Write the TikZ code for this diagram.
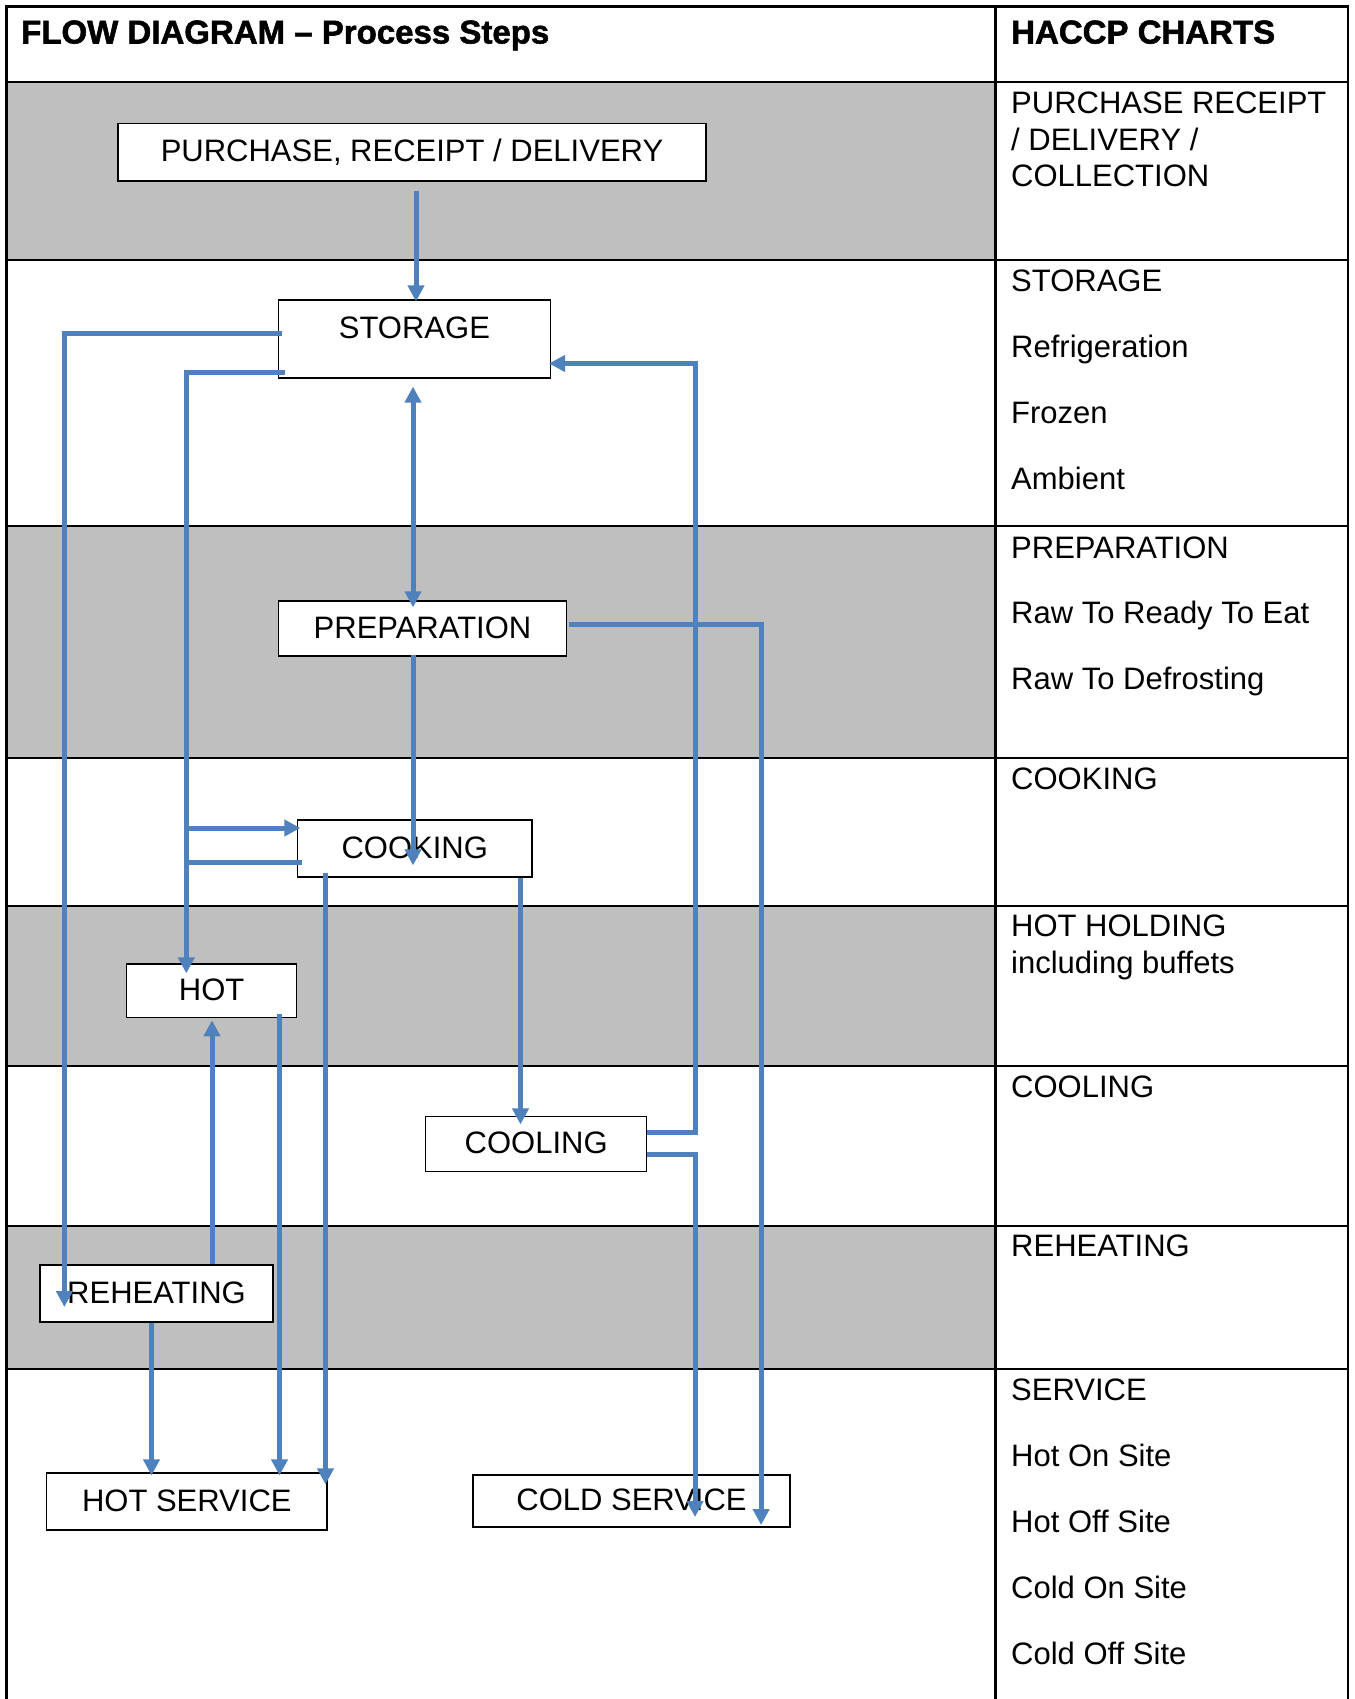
\documentclass[tikz,border=0pt]{standalone}
\usepackage{fontspec}
\setmainfont{Liberation Sans}
\newfontfamily\heavyfam[FakeBold=1.6]{Liberation Sans Bold}
\usepackage{xcolor}
\usepackage{tikz}
\usetikzlibrary{arrows.meta,positioning,calc}
\definecolor{cFlow}{HTML}{4F81BD}
\definecolor{cBand}{HTML}{BFBFBF}
\newcommand\boxfont{\fontsize{31}{36.5}\selectfont}
\newcommand\hdrfont{\fontsize{33}{38}\selectfont\heavyfam}
\newcommand\chtop{\rule{0pt}{23pt}}
\tikzset{
  stepbox/.style = {rectangle, draw=black, fill=white, line width=1.2pt, inner sep=0pt,
                    font=\boxfont, text height=23pt, text depth=4pt},
  fl/.style      = {-{Triangle[length=16pt,width=16pt]}, draw=cFlow, line width=5pt},
  flb/.style     = {{Triangle[length=16pt,width=16pt]}-{Triangle[length=16pt,width=16pt]},
                    draw=cFlow, line width=5pt},
  fln/.style     = {draw=cFlow, line width=5pt},
  band/.style    = {fill=cBand},
  rule/.style    = {draw=black, line width=2.4pt},
  hdr/.style     = {font=\hdrfont, anchor=base west, inner sep=0pt},
  chart/.style   = {font=\boxfont, anchor=north west, inner sep=0pt, align=left},
}

\begin{document}
\begin{tikzpicture}[x=1pt, y=-1pt]
  \useasboundingbox (0,0) rectangle (1354,1699);
  \foreach \ya/\yb in {82/260,526/758,906/1066,1226/1369}
    \fill[band] (6.5,\ya) rectangle (995.5,\yb);
  \draw[rule] (6.5,1699) -- (6.5,6.5) -- (1348,6.5) -- (1348,1699);
  \draw[rule] (995.5,6.5) -- (995.5,1699);
  \foreach \y in {82,260,526,758,906,1066,1226,1369}
    \draw[rule] (6.5,\y) -- (1348,\y);

  \node[hdr] (flowhd) at (21,43.5) {FLOW DIAGRAM – Process Steps};
  \node[hdr] (haccphd) at (1011,43.5) {HACCP CHARTS};

  \node[chart] (chpurch) at (1011,90.6) {\chtop PURCHASE RECEIPT\\/ DELIVERY /\\COLLECTION};
  \node[chart] (chstore) at (1011,268) {\chtop STORAGE\\[29.5pt]Refrigeration\\[29.5pt]Frozen\\[29.5pt]Ambient};
  \node[chart] (chprep) at (1011,535) {\chtop PREPARATION\\[29pt]Raw To Ready To Eat\\[29pt]Raw To Defrosting};
  \node[chart] (chcook) at (1011,766) {\chtop COOKING};
  \node[chart] (chhot) at (1011,913.4) {\chtop HOT HOLDING\\including buffets};
  \node[chart] (chcool) at (1011,1074) {\chtop COOLING};
  \node[chart] (chreheat) at (1011,1233.5) {\chtop REHEATING};
  \node[chart] (chserve) at (1011,1377) {\chtop SERVICE\\[29.5pt]Hot On Site\\[29.5pt]Hot Off Site\\[29.5pt]Cold On Site\\[29.5pt]Cold Off Site};

  \node[stepbox, minimum width=588pt, minimum height=57.5pt] (purch) at (412,152.3) {PURCHASE, RECEIPT / DELIVERY};
  \node[stepbox, minimum width=272pt, minimum height=78pt, text depth=25pt] (store) at (414.4,339) {STORAGE};
  \node[stepbox, minimum width=288pt, minimum height=55pt] (prep) at (422.5,628.5) {PREPARATION};
  \node[stepbox, minimum width=234.5pt, minimum height=57pt] (cook) at (414.7,848.5) {COOKING};
  \node[stepbox, minimum width=170pt, minimum height=53.7pt] (hot) at (211.7,990.8) {HOT};
  \node[stepbox, minimum width=221pt, minimum height=55pt] (cool) at (536.2,1144.2) {COOLING};
  \node[stepbox, minimum width=233pt, minimum height=57pt] (reheat) at (156.5,1293.5) {REHEATING};
  \node[stepbox, minimum width=280.4pt, minimum height=57pt] (hotsrv) at (186.8,1501.5) {HOT SERVICE};
  \node[stepbox, minimum width=317pt, minimum height=52pt] (coldsrv) at (631.5,1501) {COLD SERVICE};

  \coordinate (hotrail) at ([xshift=-25.4pt]hot.north);
  \coordinate (cookin) at ([xshift=3.5pt,yshift=20.5pt]cook.west);
  \coordinate (cookout) at ([xshift=5pt,yshift=-14pt]cook.west);
  \coordinate (coolrail) at ([xshift=48.3pt]cool.east);
  \coordinate (storein) at ([xshift=-2pt,yshift=-24.5pt]store.east);

  \draw[fl] ([xshift=4pt,yshift=-9pt]purch.south) -- ([xshift=1.6pt,yshift=-2pt]store.north);
  \draw[fl] ([xshift=4.3pt,yshift=5.4pt]store.west) -| ([xshift=25pt,yshift=-13.5pt]reheat.west);
  \draw[fl] ([xshift=7.6pt,yshift=-33.7pt]store.west) -| ([xshift=-25.4pt,yshift=-10pt]hot.north);
  \draw[fl] (hotrail |- cookin) -- (cookin);
  \draw[fln] (cookout) -- (hotrail |- cookout);
  \draw[flb] ([xshift=-1.4pt,yshift=-8pt]store.south) -- ([xshift=-9.5pt,yshift=-7pt]prep.north);
  \draw[fl] ([xshift=-9.5pt,yshift=2pt]prep.south) -- ([xshift=-1.7pt,yshift=-46pt]cook.north);
  \draw[fl] ([xshift=2pt,yshift=4.5pt]prep.east) -| ([xshift=-29.5pt,yshift=-24pt]coldsrv.east);
  \draw[fl] ([yshift=12pt]cool.east) -| (coolrail |- storein) -- (storein);
  \draw[fl] ([yshift=-10pt]cool.east) -| ([xshift=63.5pt,yshift=-16pt]coldsrv.center);
  \draw[fl] ([xshift=105.8pt]cook.south) -- ([xshift=-15.7pt,yshift=-8.3pt]cool.north);
  \draw[fl] ([xshift=-89.2pt,yshift=4.3pt]cook.south) -- ([xshift=138.7pt,yshift=-12pt]hotsrv.north);
  \draw[fl] ([xshift=67.8pt,yshift=4.7pt]hot.south) -- ([xshift=92.7pt,yshift=-3pt]hotsrv.north);
  \draw[fl] ([xshift=55.5pt]reheat.north) -- ([xshift=0.3pt,yshift=-2pt]hot.south);
  \draw[fl] ([xshift=-5pt]reheat.south) -- ([xshift=-35.3pt,yshift=-3pt]hotsrv.north);
\end{tikzpicture}
\end{document}
